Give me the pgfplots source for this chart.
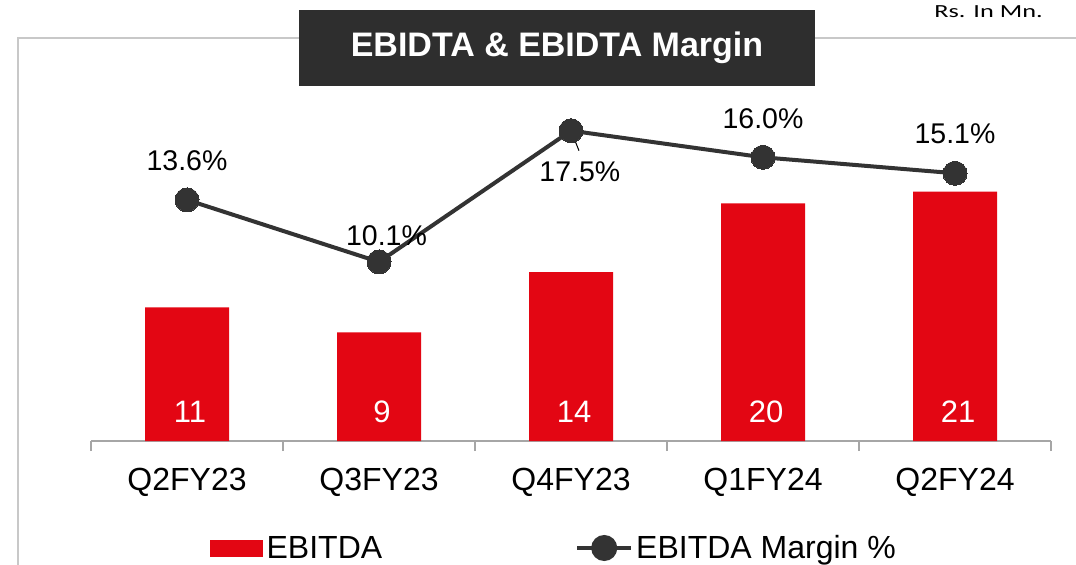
\documentclass[border=0pt]{standalone}
\usepackage{fontspec}
\setmainfont{Liberation Sans}
\newfontfamily\calibri{Carlito}
\usepackage{pgfplots}
\usepackage{pgfplotstable}
\pgfplotsset{compat=1.18}
\definecolor{ebred}{HTML}{E30613}
\definecolor{ebline}{HTML}{333333}
\definecolor{titlebg}{HTML}{2E2E2E}
\definecolor{axgray}{HTML}{A6A6A6}
\definecolor{framegray}{HTML}{C8C8C8}

\pgfplotstableread{
x y
0 11.14
1 9.06
2 14.08
3 19.80
4 20.78
}\barsdata

\pgfplotstableread{
x y lab
0 2.46 11
1 2.46 9
2 2.46 14
3 2.46 20
4 2.46 21
}\barlabels

\pgfplotstableread{
x y lab dx dy
0 13.6 13.6\% 0 39
1 10.1 10.1\% 7.5 26.7
2 17.5 17.5\% 8.8 -41.5
3 16.0 16.0\% 0 39
4 15.1 15.1\% 0 40
}\margindata

\begin{document}
\begin{tikzpicture}[x=1bp,y=1bp]
\useasboundingbox (0,-565) rectangle (1076,0);
% frame
\draw[framegray, line width=1.2bp] (18,-570) -- (18,-38) -- (1080,-38);

\begin{axis}[
  at={(91bp,-441bp)}, anchor=south west,
  scale only axis, width=960bp, height=350bp,
  xmin=-0.5, xmax=4.5, ymin=0, ymax=29.1667,
  clip=false,
  axis x line*=bottom, axis y line=none,
  x axis line style={-, axgray, line width=1.8bp},
  xtick={0,1,2,3,4},
  xticklabels={Q2FY23,Q3FY23,Q4FY23,Q1FY24,Q2FY24},
  major tick length=0pt,
  minor xtick={-0.5,0.5,1.5,2.5,3.5,4.5},
  minor tick length=10bp,
  tick align=outside,
  minor tick style={axgray, line width=1.8bp},
  xticklabel style={font=\fontsize{32bp}{38bp}\selectfont, anchor=base, inner sep=0pt, yshift=-49bp},
]
\addplot[ybar, bar width=84bp, fill=ebred, draw=none] table[x=x,y=y]{\barsdata};
\addplot[draw=none, mark=none, nodes near coords={\pgfplotspointmeta},
  point meta=explicit symbolic,
  every node near coord/.append style={anchor=center, inner sep=0pt, text=white, xshift=3bp, font=\fontsize{31bp}{37bp}\selectfont}]
  table[x=x,y=y,meta=lab]{\barlabels};
\end{axis}

\begin{axis}[
  at={(91bp,-441bp)}, anchor=south west,
  scale only axis, width=960bp, height=350bp,
  xmin=-0.5, xmax=4.5, ymin=0, ymax=19.74,
  clip=false,
  hide axis,
  legend columns=2,
  legend cell align=left,
  legend style={at={(0.124,-0.3057)}, anchor=west, draw=none, fill=none, inner sep=0pt,
    font=\fontsize{32bp}{38bp}\selectfont,
    nodes={inner sep=0pt},
    /tikz/every even column/.append style={column sep=193bp}},
]
\addlegendimage{legend image code/.code={\fill[ebred] (0bp,-8bp) rectangle (52bp,8bp); \path (56bp,0bp);}}
\addlegendentry{EBITDA}
\addplot[ebline, line width=4bp, mark=*, mark size=12bp, mark options={fill=ebline, draw=ebline, line width=0pt},
  nodes near coords={\pgfplotspointmeta},
  point meta=explicit symbolic,
  visualization depends on={\thisrow{dx} \as \dx},
  visualization depends on={\thisrow{dy} \as \dy},
  every node near coord/.append style={anchor=center, inner sep=0pt, text=black,
    font=\fontsize{28.5bp}{34bp}\selectfont, xshift=\dx bp, yshift=\dy bp},
  legend image code/.code={\draw[ebline, line width=4bp] (0bp,0bp) -- (54bp,0bp); \fill[ebline] (27bp,0bp) circle (11bp); \path (57bp,0bp);}]
  table[x=x,y=y,meta=lab]{\margindata};
\addlegendentry{EBITDA Margin \%}
\draw[black, line width=1bp] (axis cs:2,17.5) -- ++(8bp,-20bp);
\end{axis}

% title
\node[fill=titlebg, minimum width=516bp, minimum height=76bp, inner sep=0pt, text=white,
  font=\bfseries\fontsize{34bp}{40bp}\selectfont] at (557,-48) {EBIDTA \& EBIDTA Margin};
\node[anchor=base east, inner sep=0pt, font=\calibri\fontsize{18.5bp}{22bp}\selectfont, xscale=1.42]
  at (1043,-17.3) {Rs. In Mn.};
\end{tikzpicture}
\end{document}
